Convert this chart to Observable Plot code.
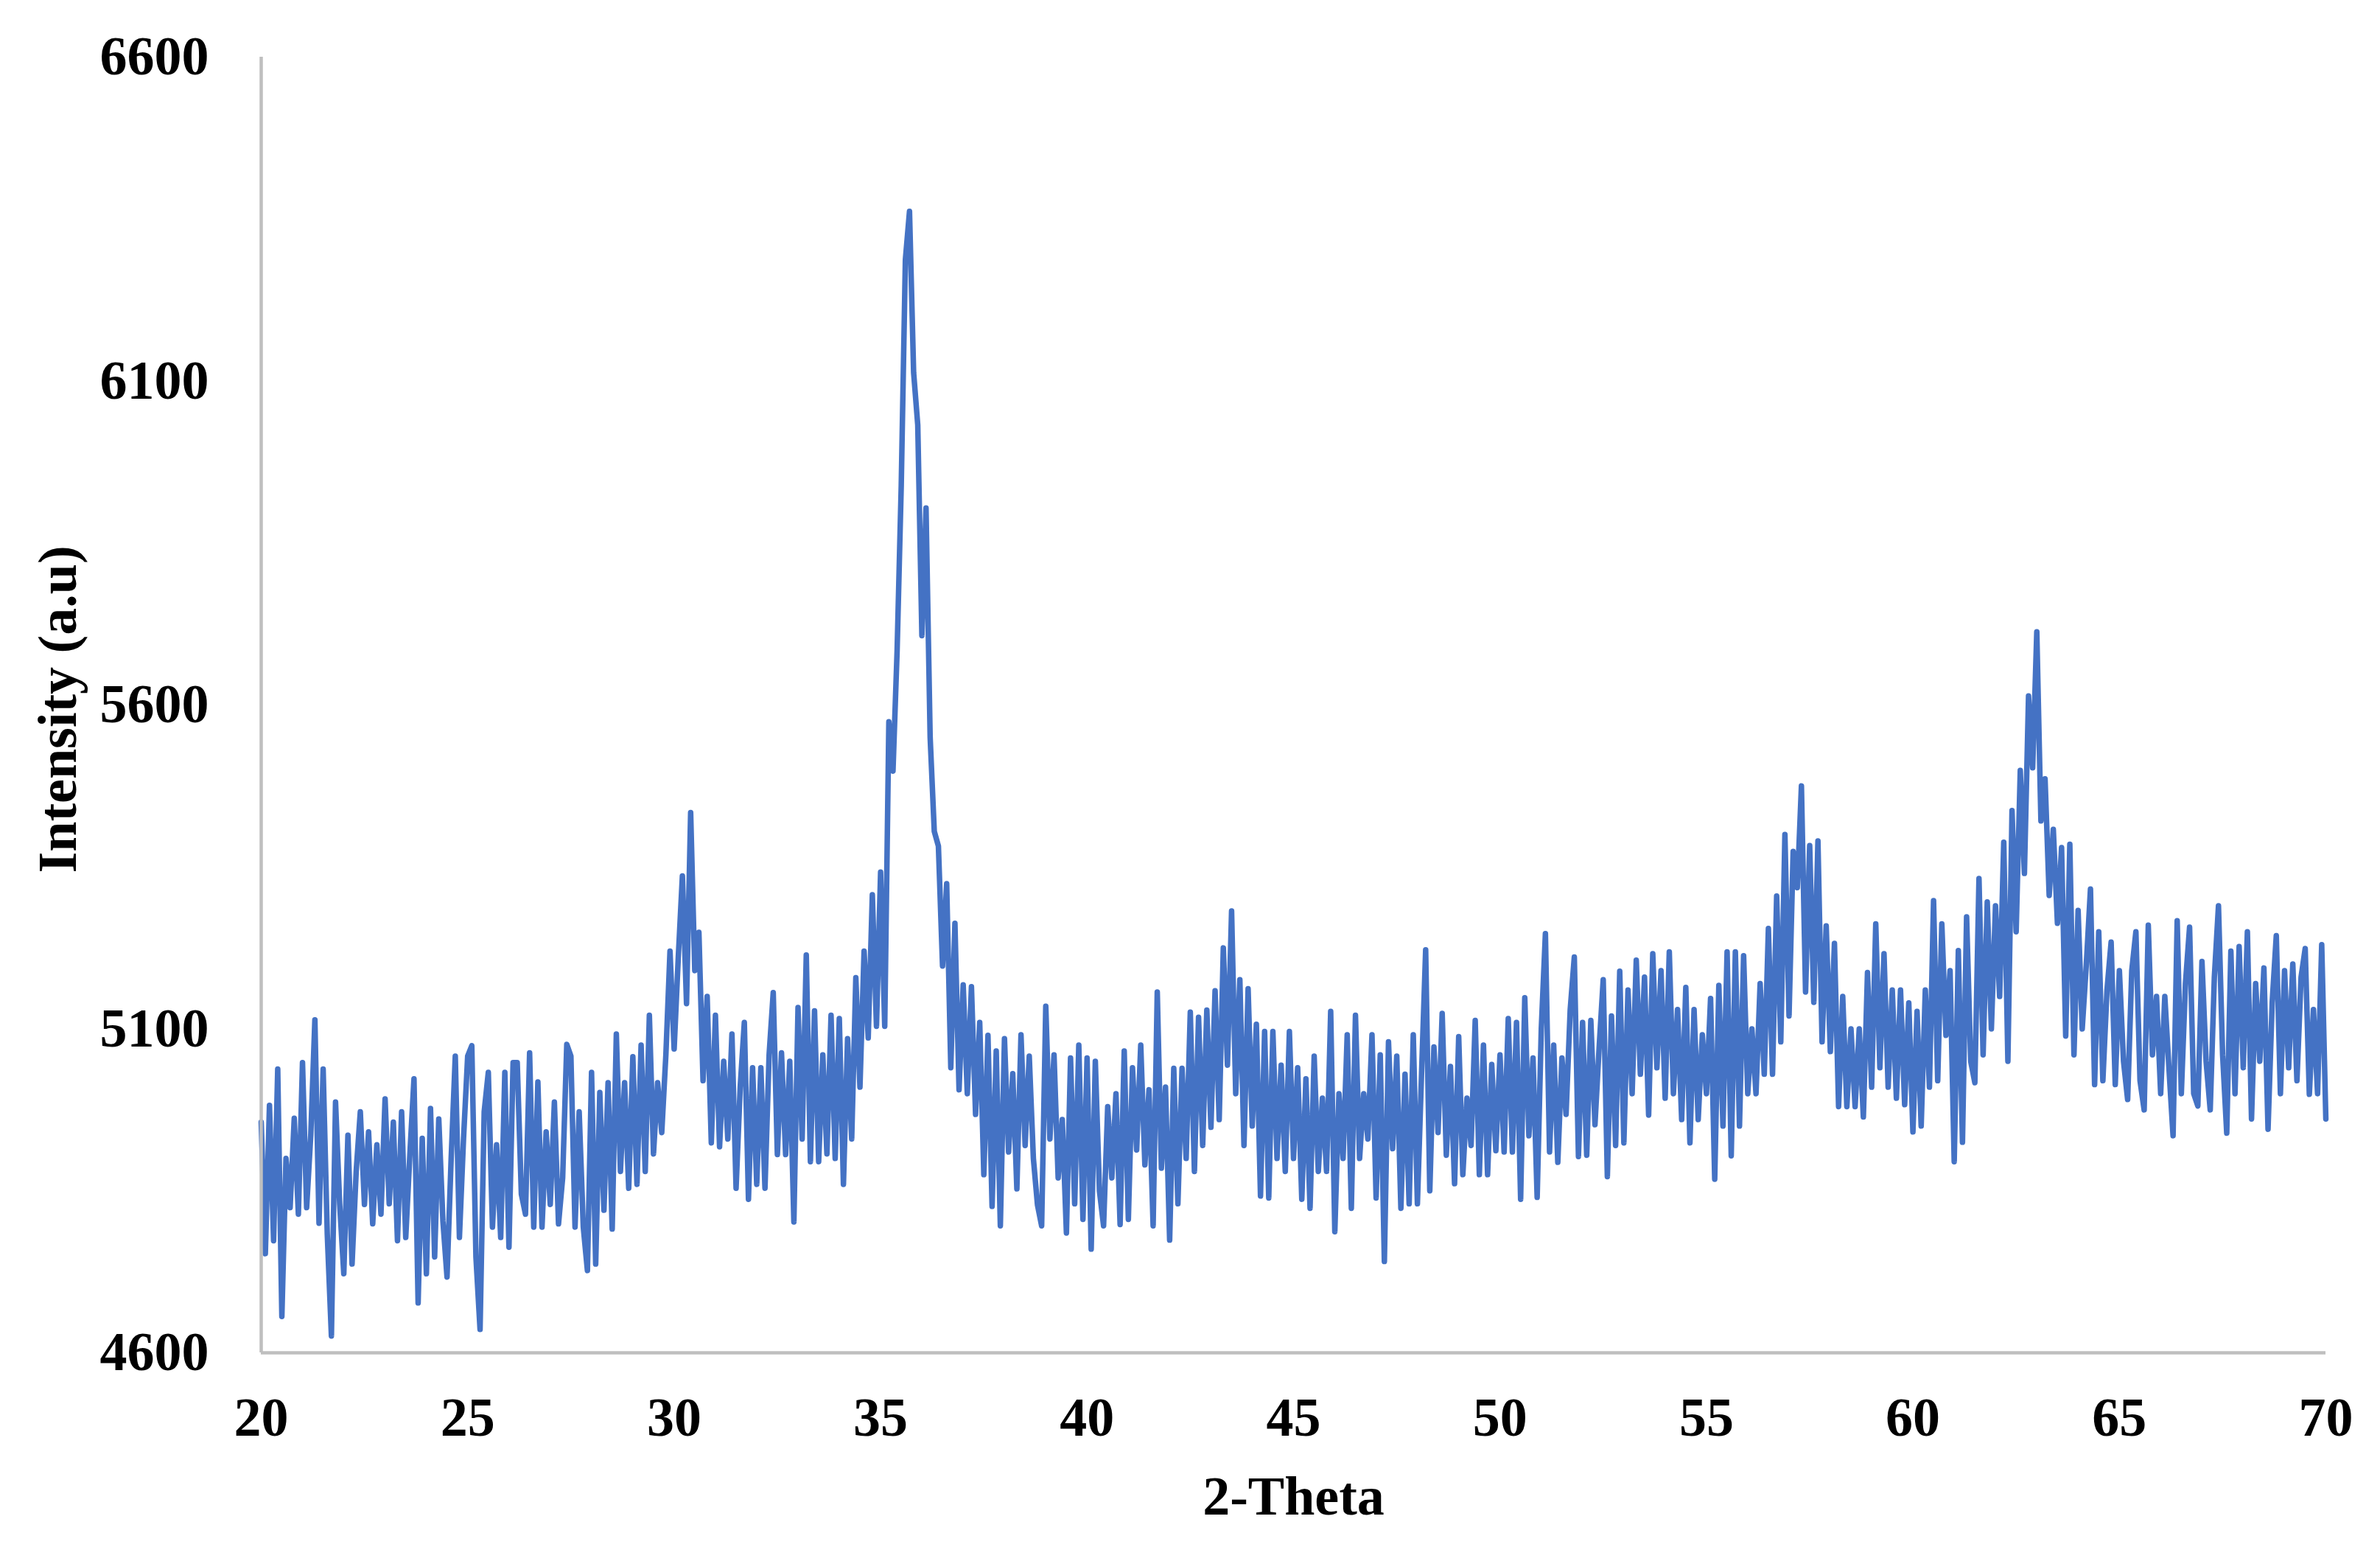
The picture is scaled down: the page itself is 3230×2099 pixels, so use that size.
<!DOCTYPE html>
<html><head><meta charset="utf-8">
<script src="https://cdn.jsdelivr.net/npm/d3@7"></script>
<script src="https://cdn.jsdelivr.net/npm/@observablehq/plot@0.6"></script>
<style>html,body{margin:0;padding:0;background:#fff;}</style>
</head><body><div id="chart"></div>
<script>
// 2-theta grid of the scan (degrees): start and step of the read-off samples
const twoThetaStart = 20;
const twoThetaStep = 0.1;

// Intensity (a.u), one value per 0.1 degree
const intensity20to30 = [
4956,4753,4982,4773,5038,4656,4900,4824,4962,4814,
5048,4824,4936,5114,4800,5038,4783,4626,4987,4830,
4722,4936,4737,4880,4972,4829,4941,4799,4921,4814,
4992,4830,4956,4773,4972,4778,4906,5023,4677,4931,
4722,4977,4748,4961,4804,4717,4900,5058,4778,4931,
5058,5074,4748,4636,4972,5033,4794,4921,4778,5033,
4763,5048,5048,4845,4814,5063,4794,5018,4794,4941,
4829,4987,4799,4870,5076,5058,4794,4972,4794,4727,
5033,4737,5002,4820,5017,4791,5092,4880,5017,4854,
5057,4860,5075,4880,5121,4907,5017,4940,5060,5220];
const intensity30to40 = [
5069,5210,5336,5139,5434,5190,5249,5020,5150,4924,
5121,4918,5050,4930,5092,4854,5010,5110,4837,5040,
4860,5040,4854,5060,5156,4906,5063,4906,5050,4802,
5133,4930,5214,4895,5128,4895,5060,4907,5121,4900,
5116,4860,5085,4930,5179,5010,5220,5086,5307,5104,
5342,5104,5574,5498,5684,5939,6287,6362,6113,6032,
5707,5904,5550,5405,5382,5197,5324,5040,5263,5006,
5168,5000,5165,4968,5110,4875,5090,4826,5066,4796,
5085,4910,5031,4853,5091,4920,5058,4900,4828,4796,
5135,4930,5060,4870,4960,4785,5055,4830,5075,4806];
const intensity40to50 = [
5055,4760,5050,4850,4796,4980,4870,5000,4798,5066,
4806,5040,4913,5075,4890,5006,4796,5157,4885,5010,
4774,5039,4830,5039,4900,5126,4880,5118,4920,5129,
4948,5159,4960,5225,5044,5282,5000,5176,4920,5162,
4950,5107,4842,5096,4839,5096,4900,5044,4880,5096,
4900,5040,4837,5023,4823,5058,4880,4993,4880,5127,
4787,5000,4900,5091,4823,5121,4900,5000,4930,5091,
4839,5060,4741,5080,4915,5058,4823,5030,4830,5091,
4830,5030,5222,4850,5072,4940,5124,4905,5042,4861,
5088,4875,4993,4920,5113,4875,5075,4875,5045,4912];
const intensity50to60 = [
5060,4910,5116,4910,5110,4837,5148,4935,5055,4840,
5100,5247,4910,5075,4894,5055,4968,5129,5211,4903,
5110,4905,5113,4952,5070,5176,4872,5120,4920,5189,
4924,5160,5000,5206,5030,5180,4967,5216,5040,5190,
4993,5219,5000,5130,4960,5164,4924,5130,4960,5091,
5000,5147,4868,5167,4950,5219,4904,5219,4950,5213,
5000,5100,5000,5170,5030,5255,5030,5305,5080,5400,
5120,5374,5318,5475,5157,5383,5141,5390,5080,5259,
5065,5232,4980,5150,4980,5100,4980,5100,4964,5187,
5010,5262,5040,5216,5010,5160,4993,5160,4983,5140];
const intensity60to70 = [
4941,5127,4950,5160,5010,5298,5020,5262,5090,5190,
4895,5221,4925,5273,5050,5017,5332,5060,5296,5100,
5290,5150,5388,5050,5437,5250,5499,5340,5614,5503,
5713,5421,5486,5306,5408,5263,5380,5089,5385,5060,
5283,5100,5200,5316,5014,5250,5020,5160,5234,5014,
5190,5050,4991,5190,5250,5020,4975,5260,5060,5150,
5000,5150,5040,4935,5267,5000,5170,5257,5000,4981,
5204,5050,4975,5180,5290,5060,4939,5220,5000,5227,
5040,5250,4961,5170,5050,5194,4945,5140,5244,5000,
5190,5040,5200,5020,5180,5224,4999,5130,5000,5230,
4961];

const xTicks = [20, 25, 30, 35, 40, 45, 50, 55, 60, 65, 70];
const yTicks = [4600, 5100, 5600, 6100, 6600];
const xLabel = "2-Theta";
const yLabel = "Intensity (a.u)";

const intensity = [].concat(intensity20to30, intensity30to40, intensity40to50, intensity50to60, intensity60to70);
const data = intensity.map((v, i) => ({theta: +(twoThetaStart + i * twoThetaStep).toFixed(2), intensity: v}));

const font = '"Liberation Serif", "Times New Roman", serif';
const chart = Plot.plot({
  width: 3230,
  height: 2099,
  marginLeft: 354,
  marginRight: 74,
  marginTop: 77,
  marginBottom: 264,
  style: {fontFamily: font, fontSize: "74px", fontWeight: "bold", background: "#fff", color: "#000", overflow: "visible"},
  x: {domain: [20, 70], ticks: xTicks, tickSize: 0, tickPadding: 60, label: null, tickFormat: d => String(d)},
  y: {domain: [4600, 6600], ticks: yTicks, tickSize: 0, tickPadding: 71, label: null, tickFormat: d => String(d)},
  marks: [
    Plot.line(data, {x: "theta", y: "intensity", stroke: "#4472C4", strokeWidth: 7.5, strokeLinejoin: "round"}),
    Plot.ruleX([20], {stroke: "#BFBFBF", strokeWidth: 4.5}),
    Plot.ruleY([4600], {stroke: "#BFBFBF", strokeWidth: 4.5}),
    Plot.text([xLabel], {text: d => d, frameAnchor: "bottom", textAnchor: "middle", dy: 219, fontSize: 74, fontWeight: "bold", fontFamily: font, fill: "#000"}),
    Plot.text([yLabel], {text: d => d, frameAnchor: "left", textAnchor: "middle", dx: -275, dy: 6, rotate: -90, fontSize: 74, fontWeight: "bold", fontFamily: font, fill: "#000"})
  ]
});
document.getElementById("chart").appendChild(chart);
</script>
</body></html>
